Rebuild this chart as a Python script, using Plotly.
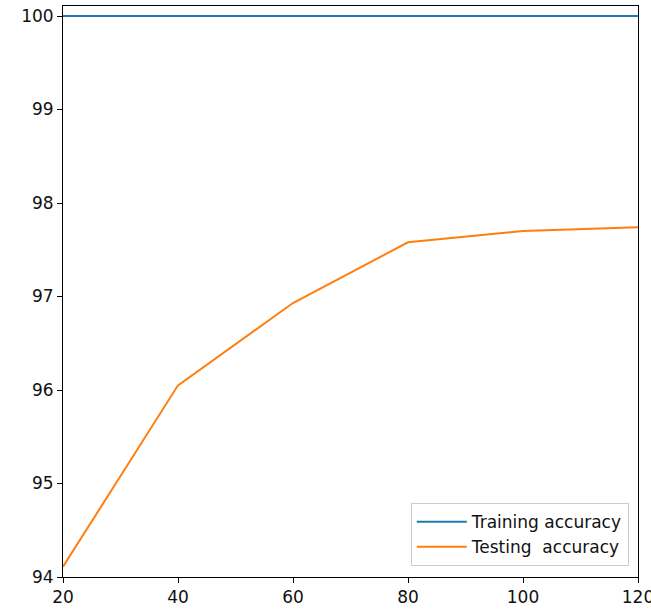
import plotly.graph_objects as go

epochs = [20, 40, 60, 80, 100, 120]
training_accuracy = [100, 100, 100, 100, 100, 100]
testing_accuracy = [94.11, 96.05, 96.93, 97.58, 97.70, 97.74]

x_ticks = [20, 40, 60, 80, 100, 120]
y_ticks = [94, 95, 96, 97, 98, 99, 100]

fig = go.Figure()
fig.add_trace(go.Scatter(x=epochs, y=training_accuracy, mode="lines",
                         name="Training accuracy",
                         line=dict(color="#1f77b4", width=2)))
fig.add_trace(go.Scatter(x=epochs, y=testing_accuracy, mode="lines",
                         name="Testing\u00a0 accuracy",
                         line=dict(color="#ff7f0e", width=2)))

axis_common = dict(showgrid=False, zeroline=False, showline=True, linecolor="black",
                   linewidth=1, mirror=True, ticks="outside", ticklen=5, tickwidth=1,
                   automargin=False,
                   tickcolor="black", tickfont=dict(family="DejaVu Sans", size=17, color="#111"))

fig.update_xaxes(range=[20, 120], tickvals=x_ticks, ticklabeloverflow="allow", **axis_common)
fig.update_yaxes(range=[94, 100.107], tickvals=y_ticks, **axis_common)

fig.update_layout(
    width=651, height=610,
    margin=dict(l=63, r=13, t=6, b=33),
    plot_bgcolor="white", paper_bgcolor="white",
    font=dict(family="DejaVu Sans", size=17, color="#111"),
    legend=dict(x=0.984, y=0.019, xanchor="right", yanchor="bottom",
                bordercolor="#cccccc", borderwidth=1, bgcolor="rgba(255,255,255,0.8)",
                font=dict(size=17), tracegroupgap=0, itemwidth=50),
)

fig.write_html("out.html", config={"displayModeBar": False},
               post_script="document.body.style.margin='0';")
